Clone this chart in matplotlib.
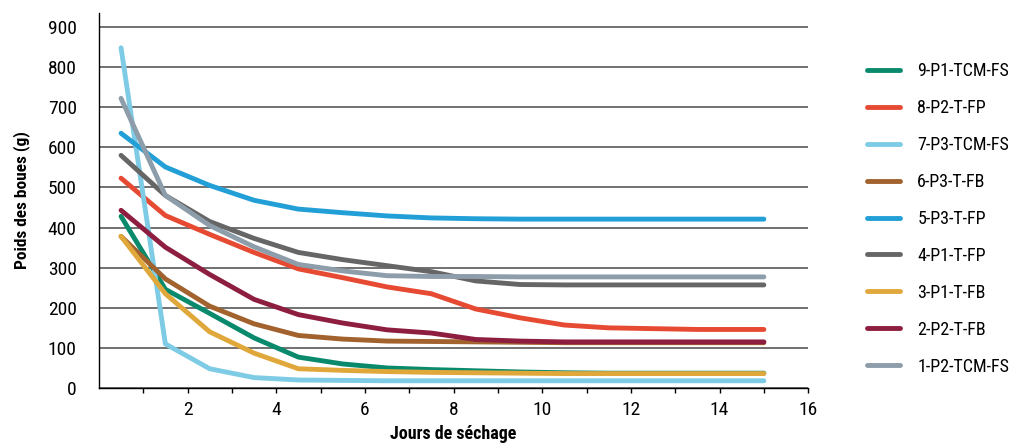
import matplotlib
matplotlib.use('Agg')
import matplotlib.pyplot as plt
from matplotlib import font_manager

# police étroite si dispo, sinon DejaVu plus petit
noms = {f.name for f in font_manager.fontManager.ttflist}
choix = [('Roboto Condensed', 13), ('Archivo Narrow', 13), ('PT Sans Narrow', 13.5),
         ('Liberation Sans Narrow', 13), ('DejaVu Sans', 10.5)]
police, taille = next((p, t) for p, t in choix if p in noms)
plt.rcParams['font.family'] = [police, 'DejaVu Sans']

jours = [0.5, 1.5, 2.5, 3.5, 4.5, 5.5, 6.5, 7.5, 8.5, 9.5, 10.5, 11.5, 12.5, 13.5, 15]

p9_p1_tcm_fs = [428, 246, 186, 125, 77, 60, 50, 46, 43, 40, 38, 37, 37, 37, 37]
p8_p2_t_fp = [523, 430, 383, 338, 297, 275, 252, 235, 197, 175, 157, 150, 148, 146, 146]
p7_p3_tcm_fs = [848, 110, 48, 26, 20, 19, 18, 18, 18, 18, 18, 18, 18, 18, 18]
p6_p3_t_fb = [378, 272, 204, 160, 131, 122, 117, 116, 115, 114, 113, 113, 113, 113, 113]
p5_p3_t_fp = [635, 551, 505, 468, 446, 437, 429, 424, 422, 421, 421, 421, 421, 421, 421]
p4_p1_t_fp = [580, 480, 415, 373, 338, 320, 305, 290, 267, 258, 257, 257, 257, 257, 257]
p3_p1_t_fb = [378, 235, 140, 87, 48, 44, 41, 39, 38, 37, 36, 36, 36, 36, 36]
p2_p2_t_fb = [443, 351, 283, 221, 183, 162, 145, 137, 121, 117, 115, 115, 115, 115, 115]
p1_p2_tcm_fs = [722, 480, 405, 352, 308, 292, 280, 278, 278, 277, 277, 277, 277, 277, 277]

noms_series = ['9-P1-TCM-FS', '8-P2-T-FP', '7-P3-TCM-FS', '6-P3-T-FB', '5-P3-T-FP',
               '4-P1-T-FP', '3-P1-T-FB', '2-P2-T-FB', '1-P2-TCM-FS']
series = [p9_p1_tcm_fs, p8_p2_t_fp, p7_p3_tcm_fs, p6_p3_t_fb, p5_p3_t_fp,
          p4_p1_t_fp, p3_p1_t_fb, p2_p2_t_fb, p1_p2_tcm_fs]
couleurs = ['#0a8a6c', '#e64a33', '#7ecbe5', '#a2622e', '#229fd6',
            '#666666', '#e0a83a', '#8e1e3f', '#8d9daa']

fig = plt.figure(figsize=(10.09, 4.46), dpi=100)
ax = fig.add_axes([0.098, 0.130, 0.703, 0.841])

for nom, val, c in zip(noms_series, series, couleurs):
    ax.plot(jours, val, color=c, lw=3.5, label=nom,
            solid_capstyle='round', solid_joinstyle='round')

ax.set_xlim(0, 16)
ax.set_ylim(0, 935)
ax.set_xticks(range(2, 17, 2))
ax.set_xticks(range(1, 16, 2), minor=True)
ax.set_yticks(range(0, 901, 100))
ax.yaxis.grid(True, color='#4a4a4a', lw=1.1)
ax.set_axisbelow(True)
for s in ['top', 'right']:
    ax.spines[s].set_visible(False)
ax.spines['left'].set_linewidth(1)
ax.spines['bottom'].set_linewidth(1)
ax.tick_params(axis='y', length=0, pad=16, labelsize=taille + 1)
ax.tick_params(axis='x', which='both', length=3.5, width=1, direction='out', pad=6, labelsize=taille + 1)

ax.set_xlabel('Jours de séchage', fontsize=taille, fontweight='bold', labelpad=4)
ax.set_ylabel('Poids des boues (g)', fontsize=taille - 0.5, fontweight='bold', labelpad=13)

fig.legend(loc='upper left', bbox_to_anchor=(0.859, 0.861), frameon=False,
           fontsize=taille, handlelength=1.85, handletextpad=0.95, labelspacing=1.05,
           borderpad=0, borderaxespad=0)

plt.savefig('out.png', dpi=100)
